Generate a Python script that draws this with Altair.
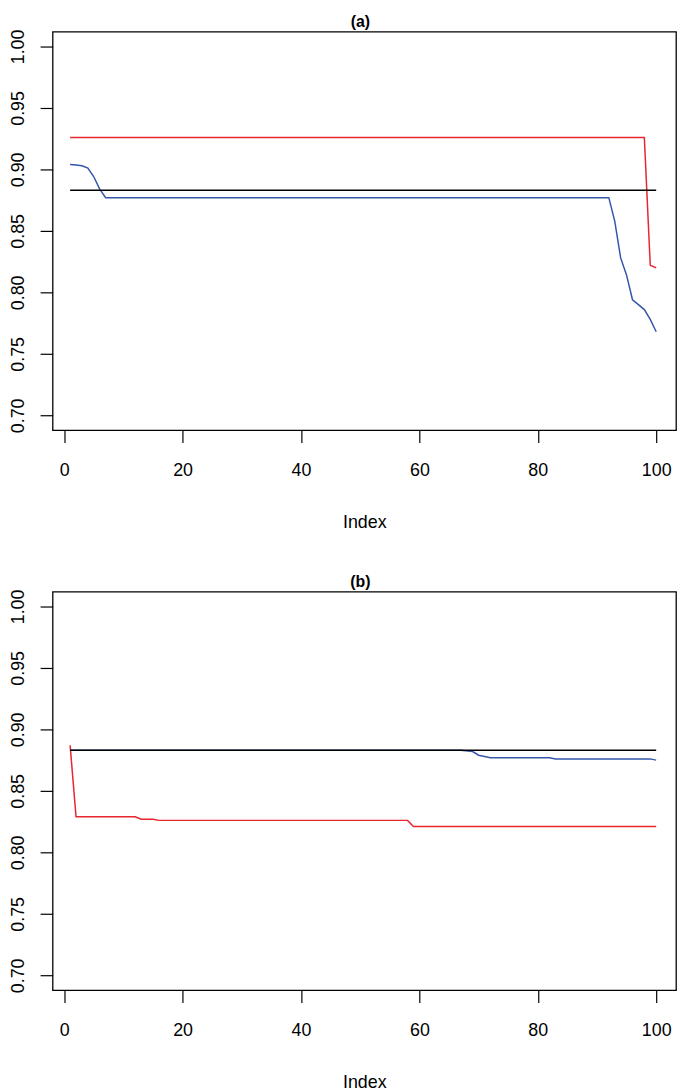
import altair as alt
import pandas as pd

# ---- data ----
x_ticks = [0, 20, 40, 60, 80, 100]
y_ticks = [0.70, 0.75, 0.80, 0.85, 0.90, 0.95, 1.00]
panel_titles = ["(a)", "(b)"]

# panel (a)
a_red_x = [1, 98, 99, 100]
a_red_y = [0.926, 0.926, 0.822, 0.820]
a_blue_x = [1, 2, 3, 4, 5, 6, 7, 92, 93, 94, 95, 96, 97, 98, 99, 100]
a_blue_y = [0.904, 0.9035, 0.903, 0.901, 0.894, 0.884, 0.877, 0.877,
            0.858, 0.828, 0.814, 0.794, 0.790, 0.786, 0.778, 0.768]
a_black_x = [1, 100]
a_black_y = [0.883, 0.883]

# panel (b)
b_red_x = [1, 2, 12, 13, 15, 16, 58, 59, 100]
b_red_y = [0.887, 0.829, 0.829, 0.827, 0.827, 0.826, 0.826, 0.821, 0.821]
b_blue_x = [1, 67, 69, 70, 72, 82, 83, 99, 100]
b_blue_y = [0.883, 0.883, 0.882, 0.879, 0.877, 0.877, 0.876, 0.876, 0.875]
b_black_x = [1, 100]
b_black_y = [0.883, 0.883]

RED = "#e8262d"
BLUE = "#3556aa"
BLACK = "#000000"
FONT = "Liberation Sans"

W, H = 629, 402


def make_panel(title, series):
    layers = []
    for xs, ys, color in series:
        df = pd.DataFrame({"x": xs, "y": ys})
        layers.append(
            alt.Chart(df).mark_line(color=color, strokeWidth=1.5).encode(
                x=alt.X("x:Q",
                        scale=alt.Scale(domain=[-1.96, 103.35], nice=False, zero=False),
                        axis=alt.Axis(values=x_ticks, title="Index", format="d",
                                      labelPadding=19, titlePadding=35)),
                y=alt.Y("y:Q",
                        scale=alt.Scale(domain=[0.688, 1.012], nice=False, zero=False),
                        axis=alt.Axis(values=y_ticks, title=None, format=".2f",
                                      labelAngle=270, labelAlign="center",
                                      labelBaseline="alphabetic", labelPadding=17)),
                order="x:Q",
            )
        )
    ttl = alt.Chart(pd.DataFrame({"t": [title]})).mark_text(
        font=FONT, fontSize=16, fontWeight="bold", color="black",
        align="center", baseline="middle",
    ).encode(text="t:N", x=alt.value(W / 2 - 4), y=alt.value(-9.5))
    layers.append(ttl)
    return alt.layer(*layers).properties(width=W, height=H)


pa = make_panel(panel_titles[0], [(a_red_x, a_red_y, RED), (a_blue_x, a_blue_y, BLUE),
                                  (a_black_x, a_black_y, BLACK)])
pb = make_panel(panel_titles[1], [(b_red_x, b_red_y, RED), (b_blue_x, b_blue_y, BLUE),
                                  (b_black_x, b_black_y, BLACK)])

chart = alt.vconcat(pa, pb, spacing=40).properties(
    padding={"left": 0, "top": 0, "right": 0, "bottom": 0}
).configure_view(
    stroke="black", strokeWidth=1.3
).configure_axis(
    domain=False, grid=False, ticks=True, tickSize=12.6, tickWidth=1.2,
    tickColor="black", labelColor="black", labelFont=FONT, labelFontSize=18,
    titleFont=FONT, titleFontSize=18, titleFontWeight="normal", titleColor="black",
)

chart.save("out.html", embed_options={"renderer": "svg", "actions": False})
